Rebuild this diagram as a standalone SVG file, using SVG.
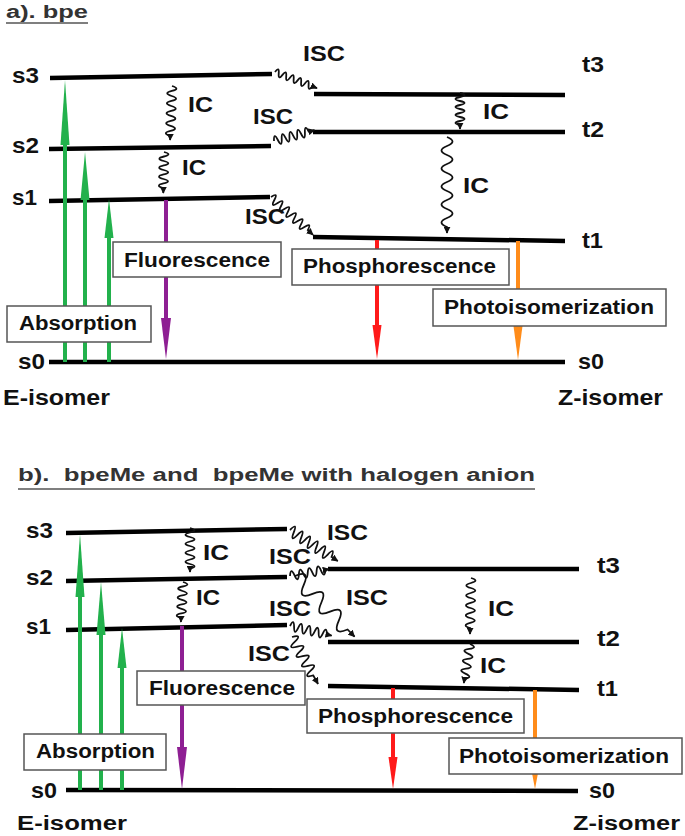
<svg xmlns="http://www.w3.org/2000/svg" width="685" height="836" viewBox="0 0 685 836">
<style>
.t{font-family:"Liberation Sans",Arial,sans-serif;font-weight:bold;font-size:20px;fill:#111}
.L{font-size:22px}
.ttl{font-family:"Liberation Sans",Arial,sans-serif;font-weight:bold;font-size:18px;fill:#333}
.ul{stroke:#555;stroke-width:1.6}
.lv{stroke:#000;stroke-width:4.5;stroke-linecap:butt;fill:none}
.box{fill:#fff;stroke:#555;stroke-width:1.5}
.wv{fill:none;stroke:#111;stroke-width:1.8;marker-end:url(#ah)}
.g{stroke:#22b14c;stroke-width:4}
.gf{fill:#22b14c}
.p{stroke:#8e1f93;stroke-width:4}
.pf{fill:#8e1f93}
.r{stroke:#ff1a1a;stroke-width:4}
.rf{fill:#ff1a1a}
.o{stroke:#ff8c1a;stroke-width:4}
.of{fill:#ff8c1a}
</style>
<defs>
<marker id="ah" viewBox="0 0 10 10" refX="9" refY="5" markerWidth="7" markerHeight="7" markerUnits="userSpaceOnUse" orient="auto">
<path d="M0,0 L10,5 L0,10 z" fill="#111"/>
</marker>
</defs>

<!-- titles -->
<g id="title-a">
<text class="ttl" x="6" y="18" textLength="82" lengthAdjust="spacingAndGlyphs">a). bpe</text>
<line class="ul" x1="6" y1="23" x2="88" y2="23"/>
</g>
<g id="title-b">
<text class="ttl" x="18" y="481" textLength="517" lengthAdjust="spacingAndGlyphs" xml:space="preserve">b).  bpeMe and  bpeMe with halogen anion</text>
<line class="ul" x1="18" y1="489" x2="535" y2="489"/>
</g>

<!-- ===== Panel a levels ===== -->
<g id="a-s3"><line class="lv" x1="50" y1="78" x2="272" y2="74"/><text class="t L" x="12" y="83" textLength="27" lengthAdjust="spacingAndGlyphs">s3</text></g>
<g id="a-s2"><line class="lv" x1="49" y1="149" x2="271" y2="146"/><text class="t L" x="12" y="153" textLength="27" lengthAdjust="spacingAndGlyphs">s2</text></g>
<g id="a-s1"><line class="lv" x1="49" y1="201" x2="270" y2="197"/><text class="t L" x="12" y="205" textLength="25" lengthAdjust="spacingAndGlyphs">s1</text></g>
<g id="a-s0"><line class="lv" x1="49" y1="362" x2="565" y2="362"/><text class="t L" x="18" y="369" textLength="27" lengthAdjust="spacingAndGlyphs">s0</text><text class="t L" x="578" y="369" textLength="26" lengthAdjust="spacingAndGlyphs">s0</text></g>
<g id="a-t3"><line class="lv" x1="314" y1="94" x2="565" y2="95"/><text class="t L" x="582" y="72" textLength="22" lengthAdjust="spacingAndGlyphs">t3</text></g>
<g id="a-t2"><line class="lv" x1="313" y1="132" x2="565" y2="132"/><text class="t L" x="582" y="137" textLength="22" lengthAdjust="spacingAndGlyphs">t2</text></g>
<g id="a-t1"><line class="lv" x1="313" y1="237" x2="565" y2="241"/><text class="t L" x="582" y="248" textLength="21" lengthAdjust="spacingAndGlyphs">t1</text></g>
<g id="a-E"><text class="t L" x="3" y="405" textLength="107" lengthAdjust="spacingAndGlyphs">E-isomer</text></g>
<g id="a-Z"><text class="t L" x="558" y="405" textLength="105" lengthAdjust="spacingAndGlyphs">Z-isomer</text></g>

<!-- ===== Panel b levels ===== -->
<g id="b-s3"><line class="lv" x1="66" y1="533" x2="287" y2="529"/><text class="t L" x="26" y="538" textLength="27" lengthAdjust="spacingAndGlyphs">s3</text></g>
<g id="b-s2"><line class="lv" x1="66" y1="581" x2="287" y2="577"/><text class="t L" x="26" y="585" textLength="27" lengthAdjust="spacingAndGlyphs">s2</text></g>
<g id="b-s1"><line class="lv" x1="66" y1="630" x2="287" y2="625"/><text class="t L" x="26" y="634" textLength="25" lengthAdjust="spacingAndGlyphs">s1</text></g>
<g id="b-s0"><line class="lv" x1="66" y1="790" x2="578" y2="791"/><text class="t L" x="31" y="798" textLength="26" lengthAdjust="spacingAndGlyphs">s0</text><text class="t L" x="589" y="798" textLength="26" lengthAdjust="spacingAndGlyphs">s0</text></g>
<g id="b-t3"><line class="lv" x1="328" y1="569" x2="579" y2="569"/><text class="t L" x="597" y="573" textLength="23" lengthAdjust="spacingAndGlyphs">t3</text></g>
<g id="b-t2"><line class="lv" x1="328" y1="642" x2="579" y2="642"/><text class="t L" x="597" y="646" textLength="23" lengthAdjust="spacingAndGlyphs">t2</text></g>
<g id="b-t1"><line class="lv" x1="328" y1="686" x2="579" y2="690"/><text class="t L" x="597" y="696" textLength="21" lengthAdjust="spacingAndGlyphs">t1</text></g>
<g id="b-E"><text class="t" x="17" y="830" textLength="110" lengthAdjust="spacingAndGlyphs" font-size="21">E-isomer</text></g>
<g id="b-Z"><text class="t" x="573" y="830" textLength="107" lengthAdjust="spacingAndGlyphs" font-size="21">Z-isomer</text></g>

<!-- ===== connectors ===== -->
<g id="connectors">
<!-- panel a radiative / absorption -->
<line class="g" x1="65" y1="362" x2="65" y2="140"/><polygon class="gf" points="65,80 69.5,145 60.5,145"/>
<line class="g" x1="85" y1="362" x2="85" y2="195"/><polygon class="gf" points="85,152 89.5,200 80.5,200"/>
<line class="g" x1="109" y1="362" x2="109" y2="233"/><polygon class="gf" points="109,199 113.5,238 104.5,238"/>
<line class="p" x1="166" y1="200" x2="166" y2="322"/><polygon class="pf" points="166,359 171,318 161,318"/>
<line class="r" x1="377" y1="240" x2="377" y2="330"/><polygon class="rf" points="377,359 381.5,325 372.5,325"/>
<line class="o" x1="518" y1="241" x2="518" y2="330"/><polygon class="of" points="518,360 522.5,326 513.5,326"/>

<!-- panel a wavy -->
<path class="wv" transform="translate(172,86) rotate(92)" d="M0,0 q2.5,-9 5,0 t5,0 t5,0 t5,0 t5,0 t5,0 t5,0 t5,0 t5,0 t5,0 l4,0"/>
<path class="wv" transform="translate(164,152) rotate(91)" d="M0,0 q2.25,-9 4.5,0 t4.5,0 t4.5,0 t4.5,0 t4.5,0 t4.5,0 t4.5,0 t4.5,0 l5,0"/>
<path class="wv" transform="translate(275,72) rotate(21)" d="M0,0 q2,-7 4,0 t4,0 t4,0 t4,0 t4,0 t4,0 t4,0 t4,0 t4,0 t4,0 l5,0"/>
<path class="wv" transform="translate(274,141) rotate(-15)" d="M0,0 q2,-9 4,0 t4,0 t4,0 t4,0 t4,0 t4,0 t4,0 t4,0 t4,0 l6,0"/>
<path class="wv" transform="translate(271,197) rotate(42)" d="M0,0 q2.25,-9 4.5,0 t4.5,0 t4.5,0 t4.5,0 t4.5,0 t4.5,0 t4.5,0 t4.5,0 t4.5,0 t4.5,0 t4.5,0 l7,0"/>
<path class="wv" transform="translate(460,93) rotate(90)" d="M0,0 q2,-9 4,0 t4,0 t4,0 t4,0 t4,0 t4,0 t4,0 t4,0 l4,0"/>
<path class="wv" transform="translate(447,137) rotate(90)" d="M0,0 q4.5,-11 9,0 t9,0 t9,0 t9,0 t9,0 t9,0 t9,0 t9,0 t9,0 t9,0 l6,0"/>

<!-- panel b radiative / absorption -->
<line class="g" x1="80" y1="790" x2="80" y2="590"/><polygon class="gf" points="80,534 84.5,597 75.5,597"/>
<line class="g" x1="101" y1="790" x2="101" y2="630"/><polygon class="gf" points="101,582 105.5,635 96.5,635"/>
<line class="g" x1="122" y1="790" x2="122" y2="663"/><polygon class="gf" points="122,628 126.5,668 117.5,668"/>
<line class="p" x1="182" y1="626" x2="182" y2="752"/><polygon class="pf" points="182,789 187,747 177,747"/>
<line class="r" x1="393" y1="688" x2="393" y2="762"/><polygon class="rf" points="393,789 397.5,757 388.5,757"/>
<line class="o" x1="535" y1="690" x2="535" y2="770"/><polygon class="of" points="535,789 539.5,765 530.5,765"/>

<!-- panel b wavy -->
<path class="wv" transform="translate(190,528) rotate(90)" d="M0,0 q2.25,-9 4.5,0 t4.5,0 t4.5,0 t4.5,0 t4.5,0 t4.5,0 t4.5,0 t4.5,0 t4.5,0 l3.5,0"/>
<path class="wv" transform="translate(183,582) rotate(93)" d="M0,0 q2.25,-9 4.5,0 t4.5,0 t4.5,0 t4.5,0 t4.5,0 t4.5,0 t4.5,0 t4.5,0 l4,0"/>
<path class="wv" transform="translate(471,578) rotate(91)" d="M0,0 q2.5,-9 5,0 t5,0 t5,0 t5,0 t5,0 t5,0 t5,0 t5,0 t5,0 t5,0 l6,0"/>
<path class="wv" transform="translate(470,644) rotate(99)" d="M0,0 q2.5,-9 5,0 t5,0 t5,0 t5,0 t5,0 t5,0 t5,0 l4.5,0"/>
<path class="wv" transform="translate(290,530) rotate(33)" d="M0,0 q2.25,-11 4.5,0 t4.5,0 t4.5,0 t4.5,0 t4.5,0 t4.5,0 t4.5,0 t4.5,0 t4.5,0 t4.5,0 t4.5,0 l7.5,0"/>
<path class="wv" transform="translate(290,576) rotate(-10)" d="M0,0 q2.25,-9 4.5,0 t4.5,0 t4.5,0 t4.5,0 t4.5,0 t4.5,0 t4.5,0 t4.5,0 l3.6,0"/>
<path class="wv" transform="translate(295,576) rotate(45.5)" d="M0,0 q6.25,-16 12.5,0 t12.5,0 t12.5,0 t12.5,0 t12.5,0 t12.5,0 l10,0"/>
<path class="wv" transform="translate(290,626) rotate(13)" d="M0,0 q2.1,-9 4.2,0 t4.2,0 t4.2,0 t4.2,0 t4.2,0 t4.2,0 t4.2,0 t4.2,0 t4.2,0 l5,0"/>
<path class="wv" transform="translate(292,637) rotate(61)" d="M0,0 q2.75,-11 5.5,0 t5.5,0 t5.5,0 t5.5,0 t5.5,0 t5.5,0 t5.5,0 t5.5,0 l9.7,0"/>
</g>

<!-- transition labels -->
<g id="a-labels">
<text class="t L" x="188" y="112" textLength="25" lengthAdjust="spacingAndGlyphs">IC</text>
<text class="t L" x="182" y="175" textLength="24" lengthAdjust="spacingAndGlyphs">IC</text>
<text class="t L" x="303" y="61" textLength="42" lengthAdjust="spacingAndGlyphs">ISC</text>
<text class="t L" x="253" y="124" textLength="40" lengthAdjust="spacingAndGlyphs">ISC</text>
<text class="t L" x="245" y="224" textLength="40" lengthAdjust="spacingAndGlyphs">ISC</text>
<text class="t L" x="483" y="119" textLength="26" lengthAdjust="spacingAndGlyphs">IC</text>
<text class="t L" x="463" y="193" textLength="26" lengthAdjust="spacingAndGlyphs">IC</text>
</g>
<g id="b-labels">
<text class="t L" x="203" y="560" textLength="26" lengthAdjust="spacingAndGlyphs">IC</text>
<text class="t L" x="196" y="605" textLength="24" lengthAdjust="spacingAndGlyphs">IC</text>
<text class="t L" x="488" y="616" textLength="26" lengthAdjust="spacingAndGlyphs">IC</text>
<text class="t L" x="480" y="673" textLength="26" lengthAdjust="spacingAndGlyphs">IC</text>
<text class="t L" x="327" y="540" textLength="41" lengthAdjust="spacingAndGlyphs">ISC</text>
<text class="t L" x="269" y="564" textLength="42" lengthAdjust="spacingAndGlyphs">ISC</text>
<text class="t L" x="346" y="605" textLength="42" lengthAdjust="spacingAndGlyphs">ISC</text>
<text class="t L" x="269" y="616" textLength="42" lengthAdjust="spacingAndGlyphs">ISC</text>
<text class="t L" x="248" y="661" textLength="42" lengthAdjust="spacingAndGlyphs">ISC</text>
</g>

<!-- boxes -->
<g id="a-fluorescence"><rect class="box" x="113" y="242" width="168" height="35"/><text class="t" x="124" y="267" textLength="146" lengthAdjust="spacingAndGlyphs">Fluorescence</text></g>
<g id="a-absorption"><rect class="box" x="7" y="306" width="144" height="36"/><text class="t" x="19" y="330" textLength="118" lengthAdjust="spacingAndGlyphs">Absorption</text></g>
<g id="a-phosphorescence"><rect class="box" x="292" y="249" width="217" height="36"/><text class="t" x="303" y="273" textLength="193" lengthAdjust="spacingAndGlyphs">Phosphorescence</text></g>
<g id="a-photoisomerization"><rect class="box" x="433" y="289" width="233" height="37"/><text class="t" x="444" y="314" textLength="210" lengthAdjust="spacingAndGlyphs">Photoisomerization</text></g>

<g id="b-fluorescence"><rect class="box" x="137" y="671" width="168" height="34"/><text class="t" x="149" y="695" textLength="146" lengthAdjust="spacingAndGlyphs">Fluorescence</text></g>
<g id="b-absorption"><rect class="box" x="24" y="734" width="142" height="36"/><text class="t" x="36" y="758" textLength="119" lengthAdjust="spacingAndGlyphs">Absorption</text></g>
<g id="b-phosphorescence"><rect class="box" x="307" y="699" width="217" height="34"/><text class="t" x="318" y="723" textLength="195" lengthAdjust="spacingAndGlyphs">Phosphorescence</text></g>
<g id="b-photoisomerization"><rect class="box" x="449" y="738" width="233" height="36"/><text class="t" x="459" y="763" textLength="210" lengthAdjust="spacingAndGlyphs">Photoisomerization</text></g>
</svg>
